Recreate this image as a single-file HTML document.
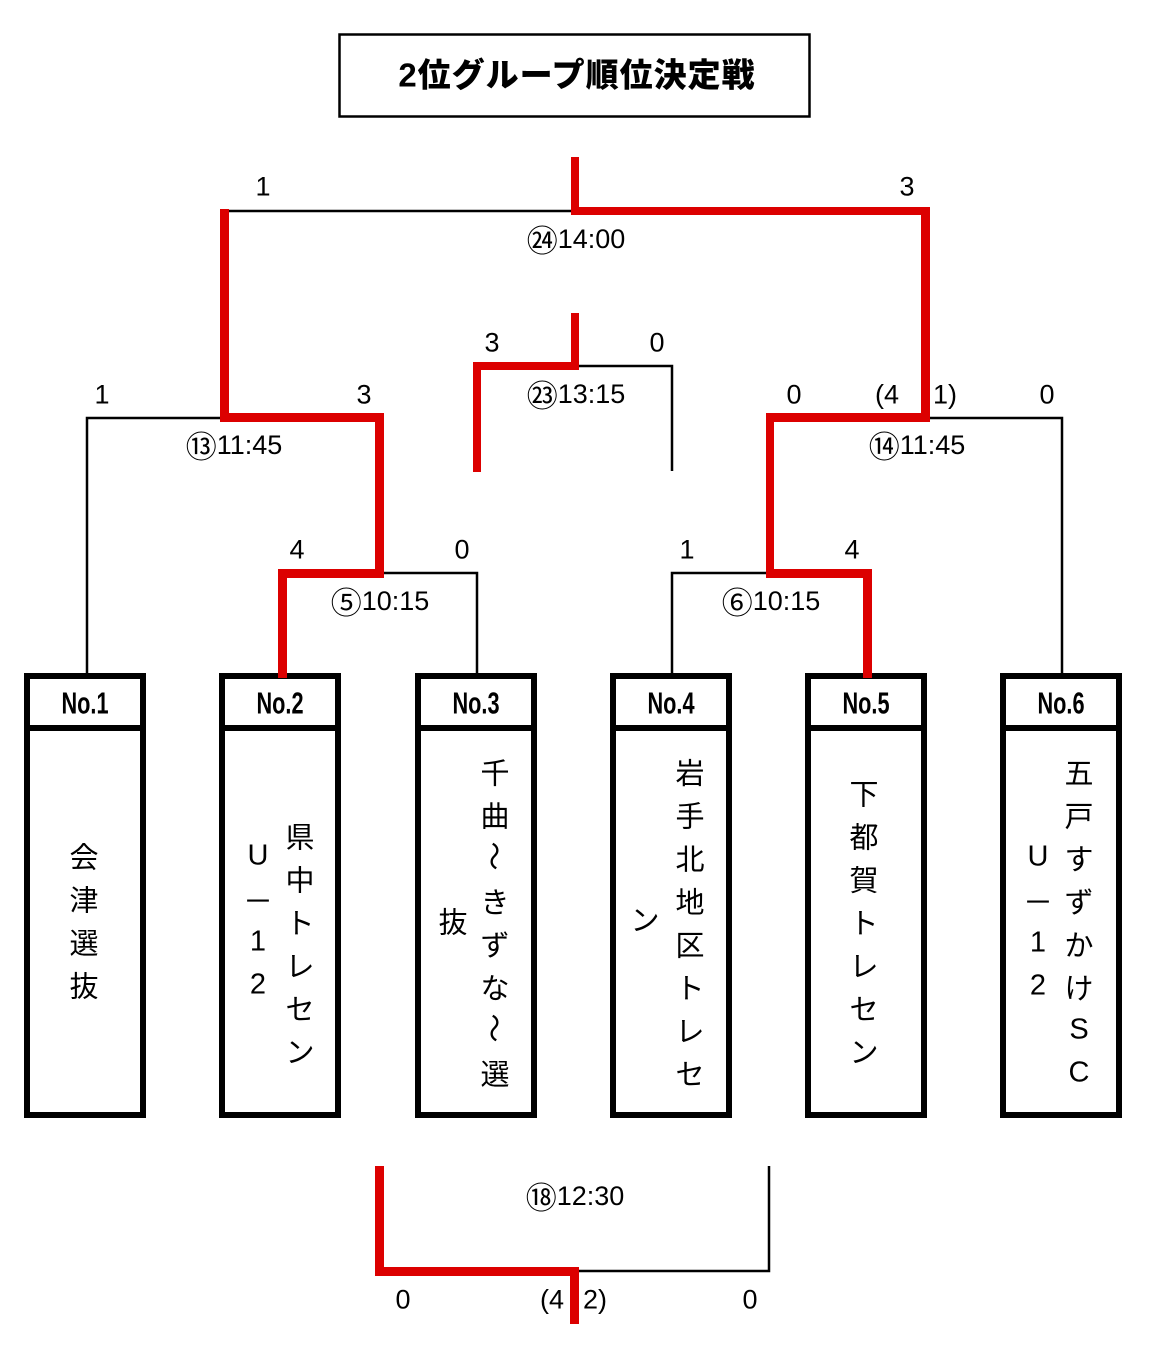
<!DOCTYPE html>
<html><head><meta charset="utf-8">
<style>
html,body{margin:0;padding:0;background:#fff;}
#wrap{position:relative;width:1150px;height:1345px;overflow:hidden;background:#fff;}
svg{position:absolute;left:0;top:0;}
.t{position:absolute;transform:translate(-50%,-50%);white-space:nowrap;font-family:"Liberation Sans","Noto Sans CJK JP",sans-serif;font-size:27px;line-height:1;color:#000;}
.t .k{font-family:"Noto Sans CJK JP",sans-serif;font-size:31px;display:inline-block;vertical-align:middle;margin-top:-4px;}
.c{position:absolute;transform:translate(-50%,-50%);white-space:nowrap;font-family:"Noto Sans CJK JP","Liberation Sans",sans-serif;font-size:29px;line-height:1;color:#000;}
.l{font-family:"Liberation Sans","Noto Sans CJK JP",sans-serif;}
.r{transform:translate(-50%,-50%) rotate(90deg);}
.h{position:absolute;transform:translate(-50%,-50%) scaleX(0.7);white-space:nowrap;font-family:"Liberation Sans",sans-serif;font-weight:bold;font-size:31px;line-height:1;color:#000;top:703px;}
.title{position:absolute;left:577px;top:75px;transform:translate(-50%,-50%);white-space:nowrap;font-family:"Liberation Sans","Noto Sans CJK JP",sans-serif;font-weight:900;font-size:33px;letter-spacing:1px;line-height:1;}
</style></head><body><div id="wrap">
<svg width="1150" height="1345" viewBox="0 0 1150 1345">
<rect x="339.5" y="34.5" width="470" height="82" fill="none" stroke="#000" stroke-width="2.5"/>
<g fill="none" stroke="#000" stroke-width="6">
<rect x="27" y="676" width="116" height="439"/>
<rect x="222" y="676" width="116" height="439"/>
<rect x="418" y="676" width="116" height="439"/>
<rect x="613" y="676" width="116" height="439"/>
<rect x="808" y="676" width="116" height="439"/>
<rect x="1003" y="676" width="116" height="439"/>
<line x1="24" y1="728" x2="146" y2="728"/>
<line x1="219" y1="728" x2="341" y2="728"/>
<line x1="415" y1="728" x2="537" y2="728"/>
<line x1="610" y1="728" x2="732" y2="728"/>
<line x1="805" y1="728" x2="927" y2="728"/>
<line x1="1000" y1="728" x2="1122" y2="728"/>
</g>
<g fill="none" stroke="#000" stroke-width="2.5">
<polyline points="229,211 571,211"/>
<polyline points="87,673 87,418 220,418"/>
<polyline points="384,573 477,573 477,673"/>
<polyline points="579,366 672,366 672,471"/>
<polyline points="930,418 1062,418 1062,673"/>
<polyline points="766,573 672,573 672,673"/>
<polyline points="579,1271 769,1271 769,1166"/>
</g>
<g fill="#dc0000">
<rect x="571" y="157" width="8" height="58"/>
<rect x="571" y="207" width="359" height="8"/>
<rect x="921" y="207" width="9" height="215"/>
<rect x="220" y="209" width="9" height="213"/>
<rect x="220" y="413" width="164" height="9"/>
<rect x="375" y="413" width="9" height="165"/>
<rect x="278" y="569" width="106" height="9"/>
<rect x="278" y="569" width="9" height="109"/>
<rect x="766" y="413" width="164" height="9"/>
<rect x="766" y="413" width="8" height="165"/>
<rect x="766" y="569" width="106" height="9"/>
<rect x="863" y="569" width="9" height="109"/>
<rect x="571" y="313" width="8" height="57"/>
<rect x="473" y="362" width="106" height="8"/>
<rect x="473" y="362" width="8" height="110"/>
<rect x="375" y="1166" width="9" height="110"/>
<rect x="375" y="1267" width="204" height="9"/>
<rect x="570" y="1267" width="9" height="57"/>
</g>
</svg>

<div class="title">2位グループ順位決定戦</div>

<div class="t" style="left:263px;top:187px">1</div>
<div class="t" style="left:907px;top:187px">3</div>
<div class="t" style="left:576px;top:240px"><span class="k">㉔</span>14:00</div>

<div class="t" style="left:492px;top:343px">3</div>
<div class="t" style="left:657px;top:343px">0</div>
<div class="t" style="left:576px;top:395px"><span class="k">㉓</span>13:15</div>

<div class="t" style="left:102px;top:395px">1</div>
<div class="t" style="left:364px;top:395px">3</div>
<div class="t" style="left:234px;top:446px"><span class="k">⑬</span>11:45</div>

<div class="t" style="left:794px;top:395px">0</div>
<div class="t" style="left:887px;top:395px">(4</div>
<div class="t" style="left:945px;top:395px">1)</div>
<div class="t" style="left:1047px;top:395px">0</div>
<div class="t" style="left:917px;top:446px"><span class="k">⑭</span>11:45</div>

<div class="t" style="left:297px;top:550px">4</div>
<div class="t" style="left:462px;top:550px">0</div>
<div class="t" style="left:380px;top:602px"><span class="k">⑤</span>10:15</div>

<div class="t" style="left:687px;top:550px">1</div>
<div class="t" style="left:852px;top:550px">4</div>
<div class="t" style="left:771px;top:602px"><span class="k">⑥</span>10:15</div>

<div class="t" style="left:575px;top:1197px"><span class="k">⑱</span>12:30</div>
<div class="t" style="left:403px;top:1300px">0</div>
<div class="t" style="left:552px;top:1300px">(4</div>
<div class="t" style="left:595px;top:1300px">2)</div>
<div class="t" style="left:750px;top:1300px">0</div>

<div class="h" style="left:85px">No.1</div>
<div class="h" style="left:280px">No.2</div>
<div class="h" style="left:476px">No.3</div>
<div class="h" style="left:671px">No.4</div>
<div class="h" style="left:866px">No.5</div>
<div class="h" style="left:1061px">No.6</div>

<div class="c" style="left:84px;top:856px">会</div>
<div class="c" style="left:84px;top:899px">津</div>
<div class="c" style="left:84px;top:942px">選</div>
<div class="c" style="left:84px;top:985px">抜</div>

<div class="c" style="left:300px;top:836px">県</div>
<div class="c" style="left:300px;top:879px">中</div>
<div class="c" style="left:300px;top:922px">ト</div>
<div class="c" style="left:300px;top:965px">レ</div>
<div class="c" style="left:300px;top:1008px">セ</div>
<div class="c" style="left:300px;top:1051px">ン</div>
<div class="c l" style="left:258px;top:856px">U</div>
<div class="c" style="left:258px;top:899px;font-size:30px">－</div>
<div class="c l" style="left:258px;top:942px">1</div>
<div class="c l" style="left:258px;top:985px">2</div>

<div class="c" style="left:495px;top:772px">千</div>
<div class="c" style="left:495px;top:815px">曲</div>
<div class="c r" style="left:495px;top:856px">～</div>
<div class="c" style="left:495px;top:901px">き</div>
<div class="c" style="left:495px;top:944px">ず</div>
<div class="c" style="left:495px;top:987px">な</div>
<div class="c r" style="left:495px;top:1028px">～</div>
<div class="c" style="left:495px;top:1073px">選</div>
<div class="c" style="left:453px;top:921px">抜</div>

<div class="c" style="left:690px;top:772px">岩</div>
<div class="c" style="left:690px;top:815px">手</div>
<div class="c" style="left:690px;top:858px">北</div>
<div class="c" style="left:690px;top:901px">地</div>
<div class="c" style="left:690px;top:944px">区</div>
<div class="c" style="left:690px;top:987px">ト</div>
<div class="c" style="left:690px;top:1030px">レ</div>
<div class="c" style="left:690px;top:1073px">セ</div>
<div class="c" style="left:645px;top:919px">ン</div>

<div class="c" style="left:864px;top:793px">下</div>
<div class="c" style="left:864px;top:836px">都</div>
<div class="c" style="left:864px;top:879px">賀</div>
<div class="c" style="left:864px;top:922px">ト</div>
<div class="c" style="left:864px;top:965px">レ</div>
<div class="c" style="left:864px;top:1008px">セ</div>
<div class="c" style="left:864px;top:1051px">ン</div>

<div class="c" style="left:1079px;top:772px">五</div>
<div class="c" style="left:1079px;top:815px">戸</div>
<div class="c" style="left:1079px;top:858px">す</div>
<div class="c" style="left:1079px;top:901px">ず</div>
<div class="c" style="left:1079px;top:944px">か</div>
<div class="c" style="left:1079px;top:987px">け</div>
<div class="c l" style="left:1079px;top:1030px">S</div>
<div class="c l" style="left:1079px;top:1073px">C</div>
<div class="c l" style="left:1038px;top:857px">U</div>
<div class="c" style="left:1038px;top:900px;font-size:30px">－</div>
<div class="c l" style="left:1038px;top:943px">1</div>
<div class="c l" style="left:1038px;top:986px">2</div>

</div></body></html>
